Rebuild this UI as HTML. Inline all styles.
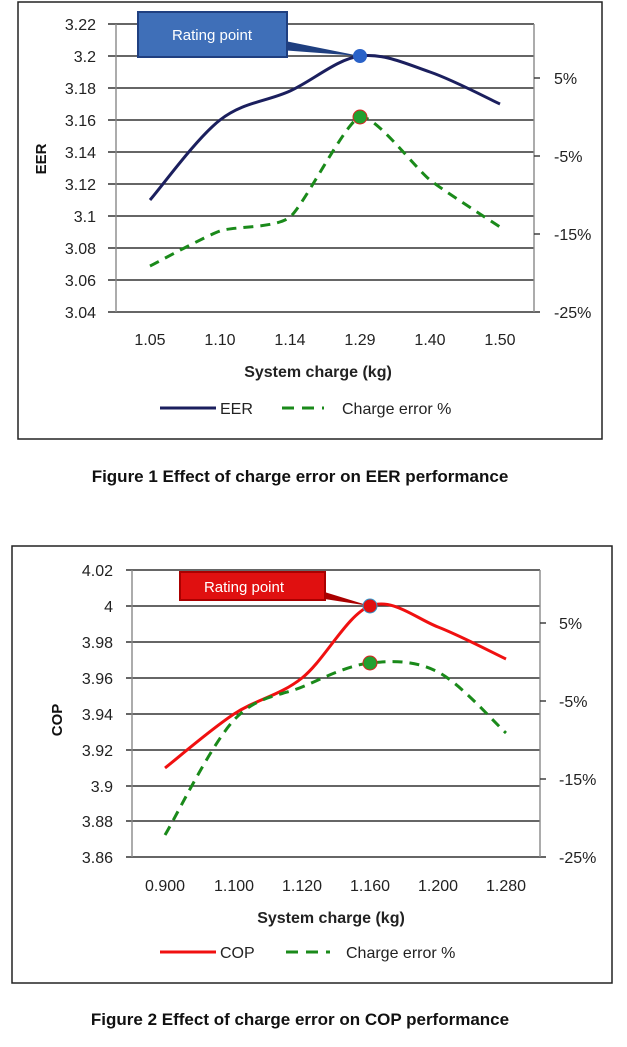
<!DOCTYPE html>
<html><head><meta charset="utf-8"><style>
body{margin:0;background:#fff;width:627px;height:1047px;overflow:hidden;font-family:"Liberation Sans",sans-serif}
svg{position:absolute;left:0;top:0}
</style></head><body>
<svg width="627" height="1047" viewBox="0 0 627 1047" font-family="Liberation Sans, sans-serif">
<rect x="18" y="2" width="584" height="437" fill="#fff" stroke="#222" stroke-width="1.5"/>
<g stroke="#333" stroke-width="1.4">
<line x1="108" y1="24" x2="534" y2="24"/><line x1="108" y1="56" x2="534" y2="56"/><line x1="108" y1="88" x2="534" y2="88"/><line x1="108" y1="120" x2="534" y2="120"/><line x1="108" y1="152" x2="534" y2="152"/><line x1="108" y1="184" x2="534" y2="184"/><line x1="108" y1="216" x2="534" y2="216"/><line x1="108" y1="248" x2="534" y2="248"/><line x1="108" y1="280" x2="534" y2="280"/><line x1="108" y1="312" x2="540" y2="312"/>
<line x1="116" y1="24" x2="116" y2="312" stroke="#888"/><line x1="534" y1="24" x2="534" y2="312" stroke="#888"/>
<line x1="534" y1="78" x2="540" y2="78"/><line x1="534" y1="156" x2="540" y2="156"/><line x1="534" y1="234" x2="540" y2="234"/>
</g>
<g font-size="16" fill="#222" text-anchor="end">
<text x="96" y="30">3.22</text><text x="96" y="62">3.2</text><text x="96" y="94">3.18</text><text x="96" y="126">3.16</text><text x="96" y="158">3.14</text><text x="96" y="190">3.12</text><text x="96" y="222">3.1</text><text x="96" y="254">3.08</text><text x="96" y="286">3.06</text><text x="96" y="318">3.04</text>
</g>
<g font-size="16" fill="#222"><text x="554" y="84">5%</text><text x="554" y="162">-5%</text><text x="554" y="240">-15%</text><text x="554" y="318">-25%</text></g>
<g font-size="16" fill="#222" text-anchor="middle"><text x="150" y="345">1.05</text><text x="220" y="345">1.10</text><text x="290" y="345">1.14</text><text x="360" y="345">1.29</text><text x="430" y="345">1.40</text><text x="500" y="345">1.50</text>
<text x="318" y="377" font-weight="bold">System charge (kg)</text></g>
<text transform="translate(46,159) rotate(-90)" font-size="15" font-weight="bold" text-anchor="middle" fill="#111">EER</text>
<path id="e1" fill="none" stroke="#1b1f5e" stroke-width="3"/>
<path id="c1" fill="none" stroke="#1a8a1a" stroke-width="3" stroke-dasharray="10,7"/>
<polygon points="280,40 360,56 280,50" fill="#1f3f80"/>
<rect x="138" y="12" width="149" height="45" fill="#3f6fb8" stroke="#1f3f80" stroke-width="2"/>
<text x="212" y="40" font-size="15" fill="#fff" text-anchor="middle">Rating point</text>
<circle cx="360" cy="56" r="7" fill="#2a62c8"/>
<circle cx="360" cy="117" r="7" fill="#22a030" stroke="#d22" stroke-width="1"/>
<line x1="160" y1="408" x2="216" y2="408" stroke="#1b1f5e" stroke-width="3"/>
<text x="220" y="414" font-size="16" fill="#222">EER</text>
<line x1="282" y1="408" x2="324" y2="408" stroke="#1a8a1a" stroke-width="3" stroke-dasharray="12,8"/>
<text x="342" y="414" font-size="16" fill="#222">Charge error %</text>
<text x="300" y="482" font-size="17" font-weight="bold" text-anchor="middle" fill="#111">Figure 1 Effect of charge error on EER performance</text>

<rect x="12" y="546" width="600" height="437" fill="#fff" stroke="#222" stroke-width="1.5"/>
<g stroke="#333" stroke-width="1.4">
<line x1="126" y1="570" x2="540" y2="570"/><line x1="126" y1="606" x2="540" y2="606"/><line x1="126" y1="642" x2="540" y2="642"/><line x1="126" y1="678" x2="540" y2="678"/><line x1="126" y1="714" x2="540" y2="714"/><line x1="126" y1="750" x2="540" y2="750"/><line x1="126" y1="786" x2="540" y2="786"/><line x1="126" y1="821" x2="540" y2="821"/><line x1="126" y1="857" x2="546" y2="857"/>
<line x1="132" y1="570" x2="132" y2="857" stroke="#888"/><line x1="540" y1="570" x2="540" y2="857" stroke="#888"/>
<line x1="540" y1="623" x2="546" y2="623"/><line x1="540" y1="701" x2="546" y2="701"/><line x1="540" y1="779" x2="546" y2="779"/>
</g>
<g font-size="16" fill="#222" text-anchor="end">
<text x="113" y="576">4.02</text><text x="113" y="612">4</text><text x="113" y="648">3.98</text><text x="113" y="684">3.96</text><text x="113" y="720">3.94</text><text x="113" y="756">3.92</text><text x="113" y="792">3.9</text><text x="113" y="827">3.88</text><text x="113" y="863">3.86</text>
</g>
<g font-size="16" fill="#222"><text x="559" y="629">5%</text><text x="559" y="707">-5%</text><text x="559" y="785">-15%</text><text x="559" y="863">-25%</text></g>
<g font-size="16" fill="#222" text-anchor="middle"><text x="165" y="891">0.900</text><text x="234" y="891">1.100</text><text x="302" y="891">1.120</text><text x="370" y="891">1.160</text><text x="438" y="891">1.200</text><text x="506" y="891">1.280</text>
<text x="331" y="923" font-weight="bold">System charge (kg)</text></g>
<text transform="translate(62,720) rotate(-90)" font-size="15" font-weight="bold" text-anchor="middle" fill="#111">COP</text>
<path id="e2" fill="none" stroke="#f01010" stroke-width="3"/>
<path id="c2" fill="none" stroke="#1a8a1a" stroke-width="3" stroke-dasharray="10,7"/>
<polygon points="318,590 370,606 318,598" fill="#a00"/>
<rect x="180" y="572" width="145" height="28" fill="#e01010" stroke="#a00" stroke-width="2"/>
<text x="244" y="592" font-size="15" fill="#fff" text-anchor="middle">Rating  point</text>
<circle cx="370" cy="606" r="7" fill="#e01010" stroke="#39c" stroke-width="1"/>
<circle cx="370" cy="663" r="7" fill="#22a030" stroke="#d22" stroke-width="1"/>
<line x1="160" y1="952" x2="216" y2="952" stroke="#f01010" stroke-width="3"/>
<text x="220" y="958" font-size="16" fill="#222">COP</text>
<line x1="286" y1="952" x2="330" y2="952" stroke="#1a8a1a" stroke-width="3" stroke-dasharray="12,8"/>
<text x="346" y="958" font-size="16" fill="#222">Charge error %</text>
<text x="300" y="1025" font-size="17" font-weight="bold" text-anchor="middle" fill="#111">Figure 2 Effect of charge error on COP performance</text>
</svg>
<script>
function cr(p,k){k=k||6;var d="M"+p[0][0]+","+p[0][1];for(var i=0;i<p.length-1;i++){var a=p[i-1]||p[i],b=p[i],c=p[i+1],e=p[i+2]||c;d+=" C"+(b[0]+(c[0]-a[0])/k)+","+(b[1]+(c[1]-a[1])/k)+" "+(c[0]-(e[0]-b[0])/k)+","+(c[1]-(e[1]-b[1])/k)+" "+c[0]+","+c[1];}return d;}
document.getElementById("e1").setAttribute("d",cr([[150,200],[220,120],[290,91],[360,56],[430,72],[500,104]]));
document.getElementById("c1").setAttribute("d",cr([[150,266],[220,231],[290,217],[360,117],[430,180],[500,227]],10));
document.getElementById("e2").setAttribute("d",cr([[165,768],[234,714],[302,678],[370,606],[438,627],[506,659]]));
document.getElementById("c2").setAttribute("d",cr([[165,835],[234,720],[302,687],[370,663],[438,672],[506,733]]));
</script>
</body></html>
